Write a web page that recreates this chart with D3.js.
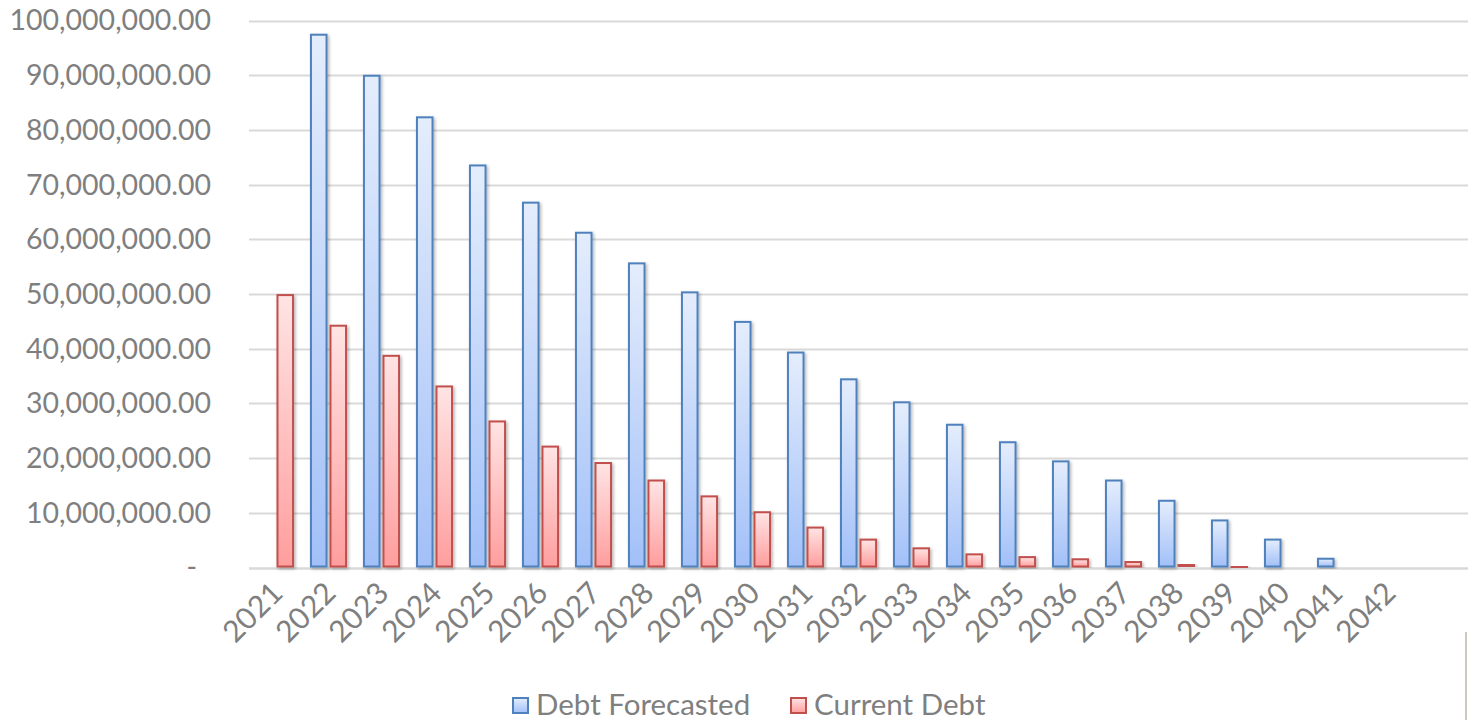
<!DOCTYPE html>
<html>
<head>
<meta charset="utf-8">
<script src="https://cdn.jsdelivr.net/npm/d3@7"></script>
<style>
  html, body { margin: 0; padding: 0; background: #fff; }
  svg { display: block; font-family: Lato, "Open Sans", sans-serif; }
  .tick-label { fill: #7f7f7f; font-size: 28.5px; }
  .x .tick-label { font-size: 30px; }
  .legend-label { fill: #7f7f7f; font-size: 29.5px; }
</style>
</head>
<body>
<div class="graph--debt"></div>
<script>
var years = ["2021","2022","2023","2024","2025","2026","2027","2028","2029","2030","2031",
             "2032","2033","2034","2035","2036","2037","2038","2039","2040","2041","2042"];

// values
var debtForecasted = [0, 97.4e6, 89.9e6, 82.3e6, 73.5e6, 66.7e6, 61.2e6, 55.6e6, 50.3e6, 44.9e6, 39.3e6,
                      34.4e6, 30.2e6, 26.1e6, 22.9e6, 19.4e6, 15.9e6, 12.2e6, 8.6e6, 5.1e6, 1.6e6, 0];
var currentDebt = [49.8e6, 44.2e6, 38.7e6, 33.1e6, 26.7e6, 22.1e6, 19.1e6, 15.9e6, 13.0e6, 10.1e6, 7.3e6,
                   5.1e6, 3.5e6, 2.4e6, 1.9e6, 1.5e6, 1.0e6, 0.55e6, 0.1e6, 0, 0, 0];

var seriesNames = ["Debt Forecasted", "Current Debt"];
var yTicks = [0, 10e6, 20e6, 30e6, 40e6, 50e6, 60e6, 70e6, 80e6, 90e6, 100e6];

var options = { width: 1470, height: 720 },
    plot = { left: 249, right: 1468, top: 20.5, bottom: 567.5 },
    colors = [
      { stroke: "#4f81bd", top: "#e4edfc", bottom: "#a2c0f8" },
      { stroke: "#c0504d", top: "#ffe4e4", bottom: "#ff9e9e" }
    ];

var rows = years.map(function(y, i) {
  return { year: y, values: [debtForecasted[i], currentDebt[i]] };
});

var svg = d3.select(".graph--debt").append("svg")
    .attr("width", options.width)
    .attr("height", options.height);

var defs = svg.append("defs");
colors.forEach(function(c, i) {
  var grad = defs.append("linearGradient")
      .attr("id", "grad" + i)
      .attr("x1", 0).attr("y1", 0).attr("x2", 0).attr("y2", 1);
  grad.append("stop").attr("offset", "0%").attr("stop-color", c.top);
  grad.append("stop").attr("offset", "100%").attr("stop-color", c.bottom);
});
defs.append("filter")
    .attr("id", "shadow")
    .attr("x", "-30%").attr("y", "-10%").attr("width", "160%").attr("height", "130%")
  .append("feDropShadow")
    .attr("dx", 1.5).attr("dy", 1.5).attr("stdDeviation", 1.5)
    .attr("flood-color", "#000").attr("flood-opacity", 0.3);

var yScale = d3.scaleLinear()
    .domain([0, 100e6])
    .range([plot.bottom, plot.top]);

var xScale = d3.scaleBand()
    .domain(years)
    .range([plot.left, plot.left + 53 * years.length])
    .paddingInner(0.3)
    .paddingOuter(0.15);

var x1 = d3.scaleBand()
    .domain([0, 1])
    .range([0, xScale.bandwidth()])
    .paddingInner(0.1);

// gridlines
svg.append("g")
    .attr("class", "grid")
  .selectAll("line")
  .data(yTicks)
  .enter().append("line")
    .attr("x1", plot.left)
    .attr("x2", plot.right)
    .attr("y1", function(d) { return Math.round(yScale(d)) + 0.5; })
    .attr("y2", function(d) { return Math.round(yScale(d)) + 0.5; })
    .attr("stroke", "#d9d9d9")
    .attr("stroke-width", function(d) { return d === 0 ? 2.5 : 2; });

// y axis labels
var fmt = d3.format(",.2f");
svg.append("g")
    .attr("class", "y axis")
  .selectAll("text")
  .data(yTicks)
  .enter().append("text")
    .attr("class", "tick-label")
    .attr("x", function(d) { return d === 0 ? 197 : 211; })
    .attr("y", function(d) { return yScale(d); })
    .attr("dy", "0.35em")
    .attr("text-anchor", "end")
    .text(function(d) { return d === 0 ? "-" : fmt(d); });

// bars
var groups = svg.append("g")
    .attr("class", "bars")
  .selectAll("g")
  .data(rows)
  .enter().append("g")
    .attr("transform", function(d) { return "translate(" + xScale(d.year) + ",0)"; });

groups.selectAll("rect")
  .data(function(d) { return d.values.map(function(v, i) { return { v: v, s: i }; }).filter(function(e) { return e.v > 0; }); })
  .enter().append("rect")
    .attr("x", function(d) { return x1(d.s) + 1; })
    .attr("width", x1.bandwidth() - 2)
    .attr("y", function(d) { return yScale(d.v); })
    .attr("height", function(d) { return Math.max(plot.bottom - yScale(d.v) - 1, 0.5); })
    .attr("fill", function(d) { return "url(#grad" + d.s + ")"; })
    .attr("stroke", function(d) { return colors[d.s].stroke; })
    .attr("stroke-width", 2)
    .attr("filter", "url(#shadow)");

// x axis labels
svg.append("g")
    .attr("class", "x axis")
  .selectAll("text")
  .data(years)
  .enter().append("text")
    .attr("class", "tick-label")
    .attr("text-anchor", "end")
    .attr("transform", function(d) {
      return "translate(" + (xScale(d) + xScale.bandwidth() / 2 + 9) + ",595) rotate(-45)";
    })
    .text(function(d) { return d; });

// legend
var legendX = [512, 790];
var legend = svg.append("g")
    .attr("class", "legend")
  .selectAll("g")
  .data(seriesNames)
  .enter().append("g")
    .attr("transform", function(d, i) { return "translate(" + legendX[i] + ",697)"; });

legend.append("rect")
    .attr("x", 1).attr("y", 1)
    .attr("width", 15).attr("height", 15)
    .attr("fill", function(d, i) { return "url(#grad" + i + ")"; })
    .attr("stroke", function(d, i) { return colors[i].stroke; })
    .attr("stroke-width", 2);

legend.append("text")
    .attr("class", "legend-label")
    .attr("x", 24)
    .attr("y", 18)
    .text(function(d) { return d; });

// stray edge at the bottom right of the original image
svg.append("line")
    .attr("x1", 1466).attr("x2", 1466)
    .attr("y1", 632).attr("y2", 720)
    .attr("stroke", "#cfc8c0")
    .attr("stroke-width", 2);
</script>
</body>
</html>
